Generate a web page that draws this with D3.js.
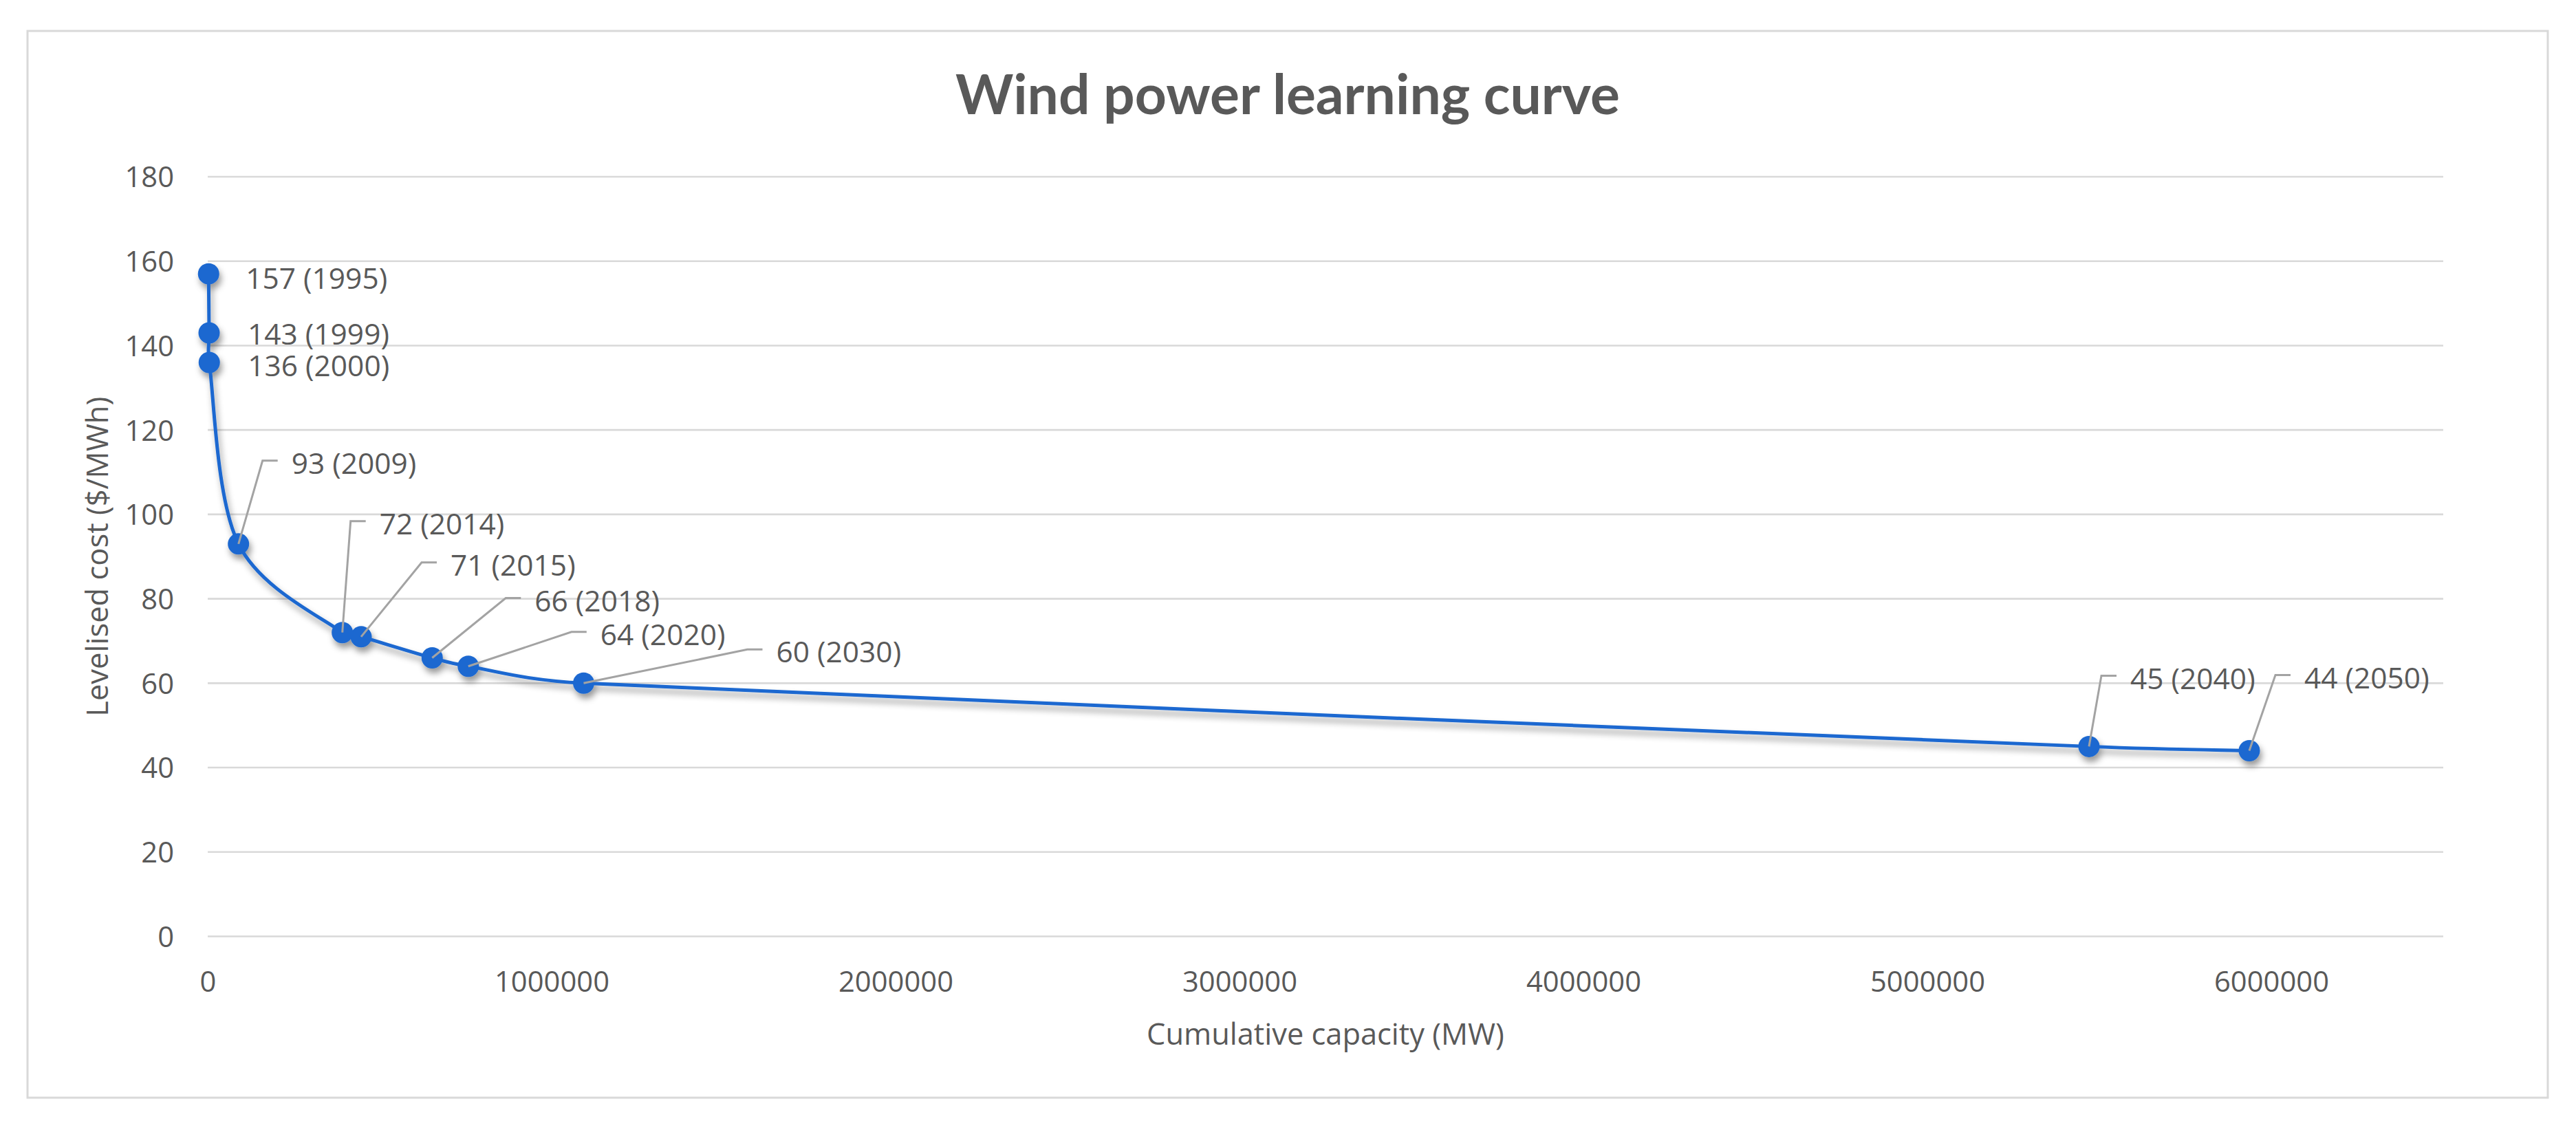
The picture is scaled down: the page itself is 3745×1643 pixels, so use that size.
<!DOCTYPE html>
<html>
<head>
<meta charset="utf-8">
<script src="https://cdn.jsdelivr.net/npm/d3@7"></script>
<style>
  html, body { margin: 0; padding: 0; background: #ffffff; }
  svg { display: block; }
</style>
</head>
<body>
<svg id="chart" width="3745" height="1643"></svg>
<script>
// ---------------- DATA ----------------
const years    = [1995, 1999, 2000, 2009, 2014, 2015, 2018, 2020, 2030, 2040, 2050];
const capacity = [2500, 4000, 4500, 89400, 391400, 446000, 652600, 757600, 1093000, 5470000, 5936000]; // MW
const cost     = [157, 143, 136, 93, 72, 71, 66, 64, 60, 45, 44]; // $/MWh
const yTicks   = [0, 20, 40, 60, 80, 100, 120, 140, 160, 180];
const xTicks   = [0, 1000000, 2000000, 3000000, 4000000, 5000000, 6000000];
const titleText  = "Wind power learning curve";
const xTitleText = "Cumulative capacity (MW)";
const yTitleText = "Levelised cost ($/MWh)";

// ---------------- LAYOUT ----------------
const W = 3745, H = 1643;
const frame = { x0: 40, y0: 45, x1: 3704, y1: 1596 };
const plot  = { left: 302, right: 3552, top: 257, bottom: 1361.5 };
const textColor = "#595959";
const gridColor = "#d9d9d9";
const lineColor = "#1b68d0";
const leaderColor = "#a3a3a3";

// label placement (pixel offsets relative to each point)
// type "r": text right of point (no leader) ; type "l": leader corner offset
const labelLayout = [
  { type: "r", dx: 54, dy: 7 },
  { type: "r", dx: 56, dy: 2 },
  { type: "r", dx: 56, dy: 5 },
  { type: "l", dx: 35,  dy: -121 },
  { type: "l", dx: 12,  dy: -162 },
  { type: "l", dx: 88,  dy: -108 },
  { type: "l", dx: 107, dy: -87 },
  { type: "l", dx: 150, dy: -50 },
  { type: "l", dx: 238, dy: -49 },
  { type: "l", dx: 18,  dy: -103 },
  { type: "l", dx: 38,  dy: -110 }
];

const svg = d3.select("#chart");

function fitFont(text, family, weight, target) {
  const t = svg.append("text")
    .attr("font-family", family).attr("font-weight", weight)
    .attr("font-size", 100).text(text);
  const w = t.node().getComputedTextLength();
  t.remove();
  return 100 * target / w;
}

const FONT = "'Open Sans', 'Noto Sans', sans-serif";
const TFONT = "Lato, 'Open Sans', sans-serif";
const titleSize = fitFont(titleText, TFONT, 700, 966);
const tickSize  = fitFont("1000000", FONT, 400, 167);
const labelSize = fitFont("157 (1995)", FONT, 400, 206);
const xTitleSize = fitFont(xTitleText, FONT, 400, 520);
const yTitleSize = fitFont(yTitleText, FONT, 400, 465);
const CAP = 0.357; // half cap height ratio

// background + frame
svg.append("rect").attr("x", 0).attr("y", 0).attr("width", W).attr("height", H).attr("fill", "#fff");
svg.append("rect")
  .attr("x", frame.x0).attr("y", frame.y0)
  .attr("width", frame.x1 - frame.x0).attr("height", frame.y1 - frame.y0)
  .attr("fill", "#fff").attr("stroke", gridColor).attr("stroke-width", 3);

// scales
const x = d3.scaleLinear().domain([0, 6500000]).range([plot.left, plot.right]);
const y = d3.scaleLinear().domain([0, 180]).range([plot.bottom, plot.top]);

// gridlines
svg.append("g").selectAll("line").data(yTicks).join("line")
  .attr("x1", plot.left).attr("x2", plot.right)
  .attr("y1", d => y(d)).attr("y2", d => y(d))
  .attr("stroke", gridColor).attr("stroke-width", 2.6);

// y axis labels
const yAxis = d3.axisLeft(y).tickValues(yTicks).tickSize(0).tickPadding(0).tickFormat(d3.format("d"));
const gy = svg.append("g").attr("transform", `translate(${plot.left - 49},0)`).call(yAxis);
gy.select(".domain").remove();
gy.selectAll("text")
  .attr("font-family", FONT).attr("font-size", tickSize).attr("fill", textColor)
  .attr("dy", null).attr("x", 0)
  .attr("y", CAP * tickSize);

// x axis labels
const xAxis = d3.axisBottom(x).tickValues(xTicks).tickSize(0).tickPadding(0).tickFormat(d3.format("d"));
const gx = svg.append("g").attr("transform", `translate(0,1427)`).call(xAxis);
gx.select(".domain").remove();
gx.selectAll("text")
  .attr("font-family", FONT).attr("font-size", tickSize).attr("fill", textColor)
  .attr("dy", null).attr("y", CAP * tickSize);

// title
svg.append("text")
  .attr("x", (frame.x0 + frame.x1) / 2).attr("y", 137.5 + 0.358 * titleSize)
  .attr("text-anchor", "middle")
  .attr("font-family", TFONT).attr("font-weight", 700).attr("font-size", titleSize)
  .attr("fill", textColor).text(titleText);

// axis titles
svg.append("text")
  .attr("x", (plot.left + plot.right) / 2).attr("y", 1504 + CAP * xTitleSize)
  .attr("text-anchor", "middle")
  .attr("font-family", FONT).attr("font-size", xTitleSize)
  .attr("fill", textColor).text(xTitleText);

svg.append("text")
  .attr("transform", `translate(${141 + CAP * yTitleSize},${(plot.top + plot.bottom) / 2}) rotate(-90)`)
  .attr("text-anchor", "middle")
  .attr("font-family", FONT).attr("font-size", yTitleSize)
  .attr("fill", textColor).text(yTitleText);

// shadow filter
const defs = svg.append("defs");
const f = defs.append("filter").attr("id", "shadow")
  .attr("x", "-20%").attr("y", "-20%").attr("width", "140%").attr("height", "140%");
f.append("feDropShadow").attr("dx", 3).attr("dy", 7).attr("stdDeviation", 5)
  .attr("flood-color", "#000").attr("flood-opacity", 0.4);

// points in pixel space
const pts = capacity.map((c, i) => [x(c), y(cost[i])]);

// Excel-style smoothed path (Bezier, 1/6 tension, arms capped at half segment)
function excelSmooth(p) {
  const path = d3.path();
  const n = p.length;
  const dist = (a, b) => Math.hypot(a[0] - b[0], a[1] - b[1]);
  path.moveTo(p[0][0], p[0][1]);
  for (let i = 0; i < n - 1; i++) {
    const p0 = p[Math.max(i - 1, 0)], p1 = p[i], p2 = p[i + 1], p3 = p[Math.min(i + 2, n - 1)];
    const d12 = dist(p1, p2), d02 = dist(p0, p2), d13 = dist(p1, p3);
    let f1 = 1 / 6, f2 = 1 / 6;
    if (d02 > 0 && d02 / 6 > d12 / 2) f1 = d12 / (2 * d02);
    if (d13 > 0 && d13 / 6 > d12 / 2) f2 = d12 / (2 * d13);
    path.bezierCurveTo(
      p1[0] + f1 * (p2[0] - p0[0]), p1[1] + f1 * (p2[1] - p0[1]),
      p2[0] - f2 * (p3[0] - p1[0]), p2[1] - f2 * (p3[1] - p1[1]),
      p2[0], p2[1]);
  }
  return path.toString();
}

const series = svg.append("g").attr("filter", "url(#shadow)");
series.append("path")
  .attr("d", excelSmooth(pts))
  .attr("fill", "none").attr("stroke", lineColor).attr("stroke-width", 5)
  .attr("stroke-linejoin", "round").attr("stroke-linecap", "round");

series.selectAll("circle").data(pts).join("circle")
  .attr("cx", d => d[0]).attr("cy", d => d[1]).attr("r", 15.5)
  .attr("fill", lineColor);

// leaders + labels
const lab = svg.append("g");
pts.forEach((p, i) => {
  const L = labelLayout[i];
  const text = `${cost[i]} (${years[i]})`;
  let tx, ty;
  if (L.type === "r") {
    tx = p[0] + L.dx; ty = p[1] + L.dy;
  } else {
    const cx = p[0] + L.dx, cy = p[1] + L.dy;
    lab.append("path")
      .attr("d", `M${p[0]},${p[1]}L${cx},${cy}L${cx + 22},${cy}`)
      .attr("fill", "none").attr("stroke", leaderColor).attr("stroke-width", 3);
    tx = cx + 42; ty = cy + 4;
  }
  lab.append("text")
    .attr("x", tx).attr("y", ty + CAP * labelSize)
    .attr("font-family", FONT).attr("font-size", labelSize)
    .attr("fill", textColor).text(text);
});
</script>
</body>
</html>
